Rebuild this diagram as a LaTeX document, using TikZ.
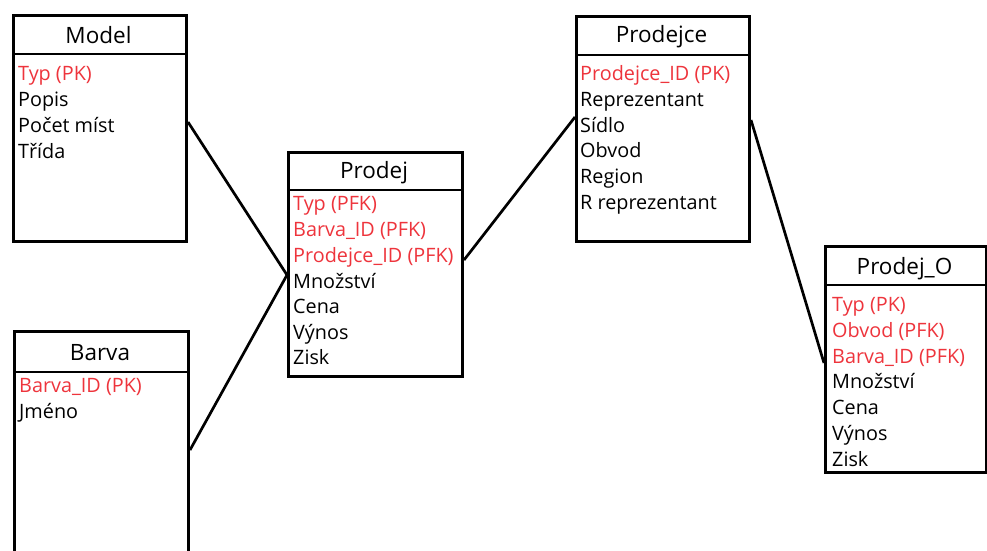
\documentclass[tikz,border=0pt]{standalone}
\usepackage{fontspec}
\setmainfont{Open Sans}
\usetikzlibrary{calc}
\definecolor{keyred}{RGB}{238,52,60}
\tikzset{
  entity/.style={draw=black, line width=3pt, fill=white, rectangle, anchor=north west, inner sep=0pt},
  rule/.style={draw=black, line width=2.6pt},
  link/.style={draw=black, line width=2.7pt},
  title/.style={font=\fontsize{22.5}{27}\selectfont, anchor=base, inner sep=0pt},
  attr/.style={font=\fontsize{19.8}{24}\selectfont, anchor=base west, inner sep=0pt, text=black},
  keyattr/.style={attr, text=keyred},
}
\begin{document}
\begin{tikzpicture}[x=1pt, y=-1pt]
\useasboundingbox[fill=white] (0,0) rectangle (987,551);

% ---- Model ----
\node[entity, minimum width=173pt, minimum height=226pt] (model) at (12,14) {};
\draw[rule] (12,54) -- (185,54);
\node[title] (modelT) at (98.5,44) {Model};
\node[keyattr] (model1) at (18,80) {Typ (PK)};
\node[attr] (model2) at (18,106) {Popis};
\node[attr] (model3) at (18,132) {Počet míst};
\node[attr] (model4) at (18,158) {Třída};

% ---- Barva ----
\node[entity, minimum width=174pt, minimum height=240pt] (barva) at (13,330) {};
\draw[rule] (13,372) -- (187,372);
\node[title] (barvaT) at (100,360) {Barva};
\node[keyattr] (barva1) at (19,392) {Barva\_ID (PK)};
\node[attr] (barva2) at (19,418) {Jméno};

% ---- Prodej ----
\node[entity, minimum width=174pt, minimum height=224pt] (prodej) at (287,151) {};
\draw[rule] (287,190) -- (461,190);
\node[title] (prodejT) at (374,178) {Prodej};
\node[keyattr] (prodej1) at (293,210) {Typ (PFK)};
\node[keyattr] (prodej2) at (293,236) {Barva\_ID (PFK)};
\node[keyattr] (prodej3) at (293,262) {Prodejce\_ID (PFK)};
\node[attr] (prodej4) at (293,288) {Množství};
\node[attr] (prodej5) at (293,313) {Cena};
\node[attr] (prodej6) at (293,339) {Výnos};
\node[attr] (prodej7) at (293,364) {Zisk};

% ---- Prodejce ----
\node[entity, minimum width=173pt, minimum height=225pt] (prodejce) at (575,15) {};
\draw[rule] (575,55) -- (748,55);
\node[title] (prodejceT) at (661.5,43) {Prodejce};
\node[keyattr] (prodejce1) at (580,80) {Prodejce\_ID (PK)};
\node[attr] (prodejce2) at (580,106) {Reprezentant};
\node[attr] (prodejce3) at (580,132) {Sídlo};
\node[attr] (prodejce4) at (580,157) {Obvod};
\node[attr] (prodejce5) at (580,183) {Region};
\node[attr] (prodejce6) at (580,209) {R reprezentant};

% ---- Prodej_O ----
\node[entity, minimum width=161pt, minimum height=226pt] (prodejo) at (824,245) {};
\draw[rule] (824,285) -- (985,285);
\node[title] (prodejoT) at (904.5,274) {Prodej\_O};
\node[keyattr] (prodejo1) at (832,311) {Typ (PK)};
\node[keyattr] (prodejo2) at (832,337) {Obvod (PFK)};
\node[keyattr] (prodejo3) at (832,363) {Barva\_ID (PFK)};
\node[attr] (prodejo4) at (832,388) {Množství};
\node[attr] (prodejo5) at (832,414) {Cena};
\node[attr] (prodejo6) at (832,440) {Výnos};
\node[attr] (prodejo7) at (832,466) {Zisk};

% ---- attachment points on the box borders ----
\coordinate (modelR)    at ($(model.north east)+(0,108)$);
\coordinate (barvaR)    at ($(barva.north east)+(0,120)$);
\coordinate (prodejL)   at ($(prodej.north west)+(0,124)$);
\coordinate (prodejR)   at ($(prodej.north east)+(0,109)$);
\coordinate (prodejceL) at ($(prodejce.north west)+(0,102)$);
\coordinate (prodejceR) at ($(prodejce.north east)+(0,105)$);
\coordinate (prodejoL)  at ($(prodejo.north west)+(0,118)$);

% ---- relationships ----
\draw[link] (modelR) -- (prodejL);
\draw[link] (barvaR) -- (prodejL);
\draw[link] (prodejR) -- (prodejceL);
\draw[link] (prodejceR) -- (prodejoL);
\end{tikzpicture}
\end{document}
